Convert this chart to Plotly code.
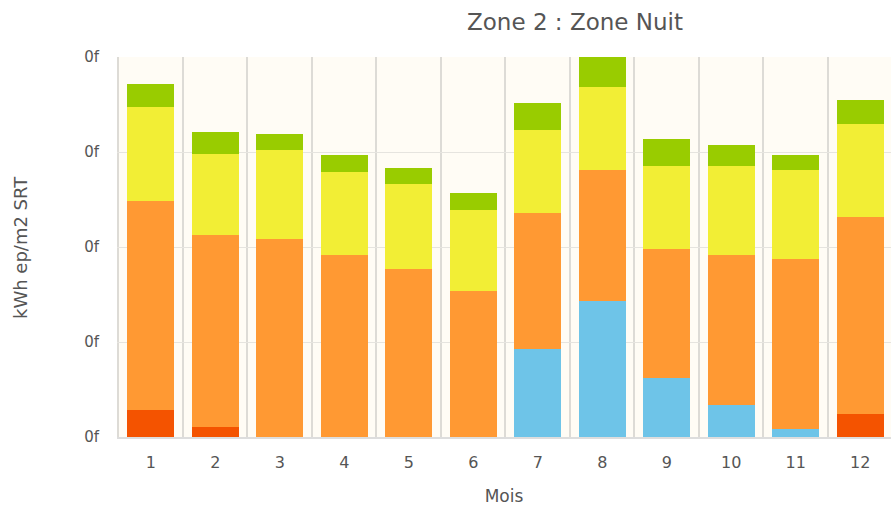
import plotly.graph_objects as go

# Monthly energy breakdown for the night zone (stacked, bottom to top)
mois = [str(m) for m in range(1, 13)]
chauffage_appoint = [14.2, 5.3, 0, 0, 0, 0, 0, 0, 0, 0, 0, 12.1]
refroidissement = [0, 0, 0, 0, 0, 0, 46.3, 71.6, 31.0, 16.8, 4.2, 0]
chauffage = [110.0, 101.0, 104.2, 95.8, 88.4, 76.8, 71.6, 68.9, 67.9, 78.9, 89.5, 103.7]
eclairage = [49.5, 42.6, 46.8, 43.7, 44.7, 42.6, 43.7, 43.7, 43.7, 46.8, 46.8, 49.0]
auxiliaires = [12.1, 11.6, 8.4, 8.9, 8.4, 8.9, 14.2, 15.8, 14.2, 11.0, 7.9, 12.6]

y_ticks = [0, 50, 100, 150, 200]
y_tick_text = ["0f"] * len(y_ticks)

series = [
    ("Chauffage appoint", chauffage_appoint, "#f45300"),
    ("Refroidissement", refroidissement, "#6ec4e8"),
    ("Chauffage", chauffage, "#ff9933"),
    ("Eclairage", eclairage, "#f2ee35"),
    ("Auxiliaires", auxiliaires, "#99cc00"),
]

fig = go.Figure()
for name, vals, color in series:
    fig.add_trace(go.Bar(
        x=mois, y=vals, name=name,
        marker=dict(color=color, line=dict(width=0)),
    ))

font_family = "DejaVu Sans"
grey = "#555555"
W, H = 891, 506
ML, MR, MT, MB = 117, 0, 57, 69
plot_w = W - ML - MR

fig.update_layout(
    width=W, height=H,
    barmode="stack",
    bargap=0.27,
    showlegend=False,
    paper_bgcolor="white",
    plot_bgcolor="#fffcf5",
    margin=dict(l=ML, r=MR, t=MT, b=MB),
    font=dict(family=font_family, color=grey, size=15),
    title=dict(
        text="Zone 2 : Zone Nuit",
        x=575 / W, xanchor="center",
        y=1 - 22 / H, yanchor="middle",
        font=dict(size=23, color=grey, family=font_family),
    ),
    xaxis=dict(
        type="category",
        range=[-0.523, 11.477],
        tickson="boundaries",
        showgrid=True, gridcolor="#dddbd6", gridwidth=2,
        showline=True, linecolor="#dddddd", linewidth=2,
        ticks="", ticklen=0,
        ticklabelstandoff=10,
        tickfont=dict(size=16, color=grey),
        title=dict(text="Mois", font=dict(size=17, color=grey), standoff=22),
    ),
    yaxis=dict(
        range=[0, 200],
        tickvals=y_ticks, ticktext=y_tick_text,
        showgrid=True, gridcolor="#e6e4df", gridwidth=1,
        zeroline=False,
        showline=False,
        ticks="", ticklabelstandoff=17,
        tickfont=dict(size=15, color=grey),
    ),
    annotations=[dict(
        text="kWh ep/m2 SRT",
        xref="paper", yref="paper",
        x=(20 - ML) / plot_w, y=0.5,
        xanchor="center", yanchor="middle",
        textangle=-90, showarrow=False,
        font=dict(size=18, color=grey, family=font_family),
    )],
)

fig.write_html("out.html")
